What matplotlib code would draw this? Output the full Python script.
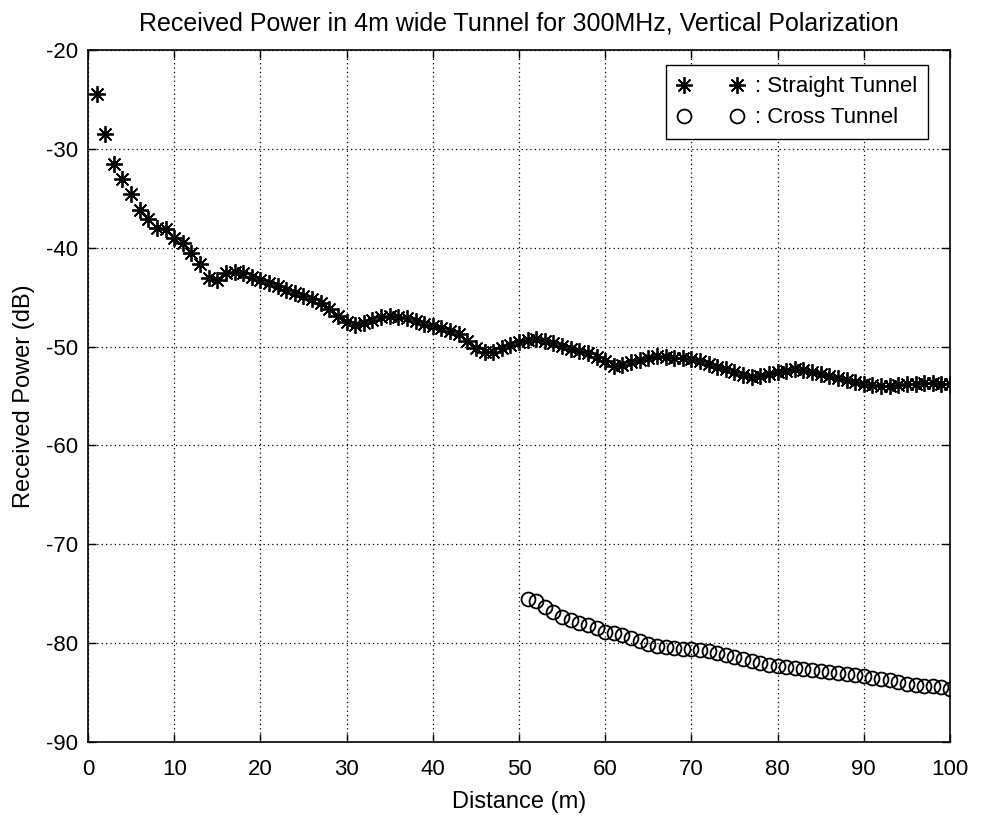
import numpy as np
import matplotlib
matplotlib.use("Agg")
import matplotlib.pyplot as plt
from matplotlib.legend_handler import HandlerLine2D

plt.rcParams["font.family"] = ["Liberation Sans", "DejaVu Sans"]
plt.rcParams["axes.unicode_minus"] = False

# Straight tunnel, distance 1..100 m
straight_x = list(range(1, 101))
straight_db = [
    -24.5, -28.5, -31.5, -33.1, -34.6, -36.2, -37.1, -38.0, -38.1, -39.0,
    -39.5, -40.5, -41.6, -43.1, -43.3, -42.6, -42.5, -42.6, -43.0, -43.3,
    -43.6, -43.9, -44.3, -44.6, -44.9, -45.2, -45.6, -46.2, -46.9, -47.5,
    -47.8, -47.6, -47.3, -47.0, -46.9, -47.0, -47.1, -47.4, -47.7, -47.9,
    -48.1, -48.4, -48.7, -49.4, -50.1, -50.6, -50.5, -50.1, -49.8, -49.5,
    -49.3, -49.2, -49.4, -49.6, -49.9, -50.2, -50.4, -50.7, -51.1, -51.5,
    -52.0, -51.9, -51.6, -51.4, -51.2, -51.0, -51.1, -51.2, -51.2, -51.3,
    -51.5, -51.8, -52.1, -52.3, -52.6, -52.9, -53.1, -53.0, -52.8, -52.6,
    -52.5, -52.3, -52.4, -52.6, -52.8, -53.0, -53.2, -53.4, -53.6, -53.8,
    -53.9, -54.0, -54.0, -53.9, -53.8, -53.8, -53.7, -53.7, -53.8, -53.8,
]

# Cross tunnel, distance 51..100 m
cross_x = list(range(51, 101))
cross_db = [
    -75.5, -75.7, -76.3, -76.9, -77.4, -77.7, -78.0, -78.2, -78.5, -78.9,
    -79.0, -79.2, -79.5, -79.8, -80.1, -80.3, -80.4, -80.5, -80.6, -80.6,
    -80.7, -80.8, -81.0, -81.2, -81.4, -81.6, -81.8, -82.0, -82.2, -82.3,
    -82.4, -82.5, -82.6, -82.7, -82.8, -82.9, -83.0, -83.1, -83.2, -83.3,
    -83.5, -83.6, -83.7, -83.9, -84.1, -84.2, -84.3, -84.3, -84.4, -84.6,
]

x_ticks = list(range(0, 101, 10))
y_ticks = list(range(-90, -19, 10))

fig = plt.figure(figsize=(9.81, 8.18), dpi=100)
ax = fig.add_axes([0.0897, 0.0929, 0.8787, 0.846])

ax.plot(straight_x, straight_db, linestyle="none", marker=(8, 2, 0),
        markersize=12, markeredgewidth=1.3, color="black",
        label=": Straight Tunnel")
ax.plot(cross_x, cross_db, linestyle="none", marker="o", markersize=10,
        markerfacecolor="none", markeredgewidth=1.3, color="black",
        label=": Cross Tunnel")

ax.set_xlim(0, 100)
ax.set_ylim(-90, -20)
ax.set_xticks(x_ticks)
ax.set_yticks(y_ticks)
ax.grid(True, linestyle=(0, (1, 2.5)), color="black", linewidth=0.9)
ax.tick_params(direction="in", top=True, right=True, length=6, width=1,
               labelsize=16)
ax.tick_params(axis="x", pad=12)
ax.tick_params(axis="y", pad=7)
for s in ax.spines.values():
    s.set_linewidth(1.2)

ax.set_xlabel("Distance (m)", fontsize=17, labelpad=8)
ax.set_ylabel("Received Power (dB)", fontsize=17, labelpad=8)
ax.set_title("Received Power in 4m wide Tunnel for 300MHz, Vertical Polarization",
             fontsize=18, pad=14)

leg = ax.legend(loc="upper right", bbox_to_anchor=(0.9745, 0.978),
                numpoints=2, handlelength=3.0, handletextpad=0.5,
                fontsize=16, frameon=True, fancybox=False, borderpad=0.5,
                labelspacing=0.45, borderaxespad=0,
                handler_map={plt.Line2D: HandlerLine2D(marker_pad=0.3)})
leg.get_frame().set_edgecolor("black")
leg.get_frame().set_linewidth(1.0)
leg.get_frame().set_alpha(1)

fig.savefig("out.png", dpi=100)
